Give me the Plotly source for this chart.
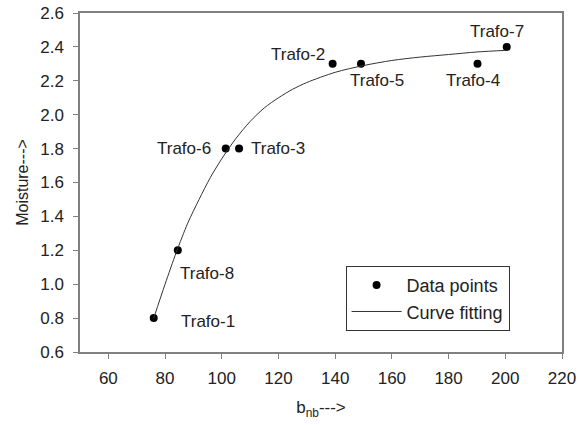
import plotly.graph_objects as go

# Data points
names = ["Trafo-1", "Trafo-8", "Trafo-6", "Trafo-3", "Trafo-2", "Trafo-5", "Trafo-4", "Trafo-7"]
bnb = [76, 84.5, 101.4, 106.1, 139.1, 149.1, 190.2, 200.5]
moisture = [0.8, 1.2, 1.8, 1.8, 2.3, 2.3, 2.3, 2.4]

# Fitted curve
curve_x = [76, 80, 84, 88, 92, 96, 100, 105, 110, 115, 120, 125, 130, 140, 150, 160, 170, 180, 190, 200.5]
curve_y = [0.80, 1.00, 1.19, 1.36, 1.50, 1.63, 1.74, 1.86, 1.96, 2.04, 2.10, 2.15, 2.19, 2.25, 2.29, 2.32, 2.34, 2.355, 2.37, 2.38]

# label offsets (px): xanchor, xshift, yshift
label_style = {
    "Trafo-1": ("left", 25, -3),
    "Trafo-8": ("left", 0, -23),
    "Trafo-6": ("right", -13, 0),
    "Trafo-3": ("left", 10, 0),
    "Trafo-2": ("right", -6, 9),
    "Trafo-5": ("center", 16, -17),
    "Trafo-4": ("center", -5, -17),
    "Trafo-7": ("center", -10, 15),
}

FONT = "Liberation Sans, Arial, sans-serif"
TXT = "#222222"

fig = go.Figure()
fig.add_trace(go.Scatter(
    x=bnb, y=moisture, mode="markers", name="Data points",
    marker=dict(color="black", size=8),
))
fig.add_trace(go.Scatter(
    x=curve_x, y=curve_y, mode="lines", name="Curve fitting",
    line=dict(color="#333333", width=1, shape="spline", smoothing=0.8),
))

for n, x, y in zip(names, bnb, moisture):
    xa, xs, ys = label_style[n]
    fig.add_annotation(x=x, y=y, text=n, showarrow=False, xanchor=xa, yanchor="middle",
                       xshift=xs, yshift=ys, font=dict(size=17, color=TXT, family=FONT))

axis_common = dict(
    showgrid=False, zeroline=False, showline=True, linecolor="#808080", linewidth=1.5,
    mirror=True, ticks="outside", ticklen=5, tickcolor="#808080", tickwidth=1,
    tickfont=dict(size=17, color=TXT, family=FONT), automargin=False,
)

fig.update_layout(
    width=583, height=425,
    margin=dict(l=80, r=21, t=13, b=73),
    paper_bgcolor="white", plot_bgcolor="white",
    font=dict(family=FONT, color=TXT),
    xaxis=dict(range=[50, 220], tickvals=[60, 80, 100, 120, 140, 160, 180, 200, 220],
               ticklabelstandoff=5,
               title=dict(text="b<sub>nb</sub>--->", font=dict(size=17, family=FONT, color=TXT), standoff=14),
               **axis_common),
    yaxis=dict(range=[0.6, 2.6], tickvals=[0.6, 0.8, 1.0, 1.2, 1.4, 1.6, 1.8, 2.0, 2.2, 2.4, 2.6],
               tickformat=".1f", ticklabelstandoff=6,
               title=dict(text="Moisture--->", font=dict(size=16, family=FONT, color=TXT), standoff=8),
               **axis_common),
    legend=dict(x=0.551, y=0.254, xanchor="left", yanchor="top",
                bordercolor="#333333", borderwidth=1, bgcolor="white", itemwidth=50,
                font=dict(size=18, family=FONT, color=TXT), tracegroupgap=0),
    showlegend=True,
)

fig.write_html("out.html")
